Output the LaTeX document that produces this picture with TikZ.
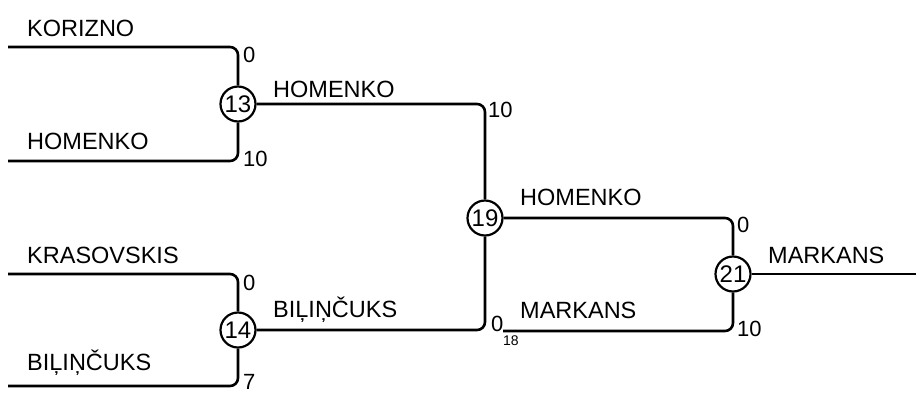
\documentclass[tikz,border=0pt]{standalone}
\usepackage{fontspec}
\setmainfont{Liberation Sans}
\begin{document}
\begin{tikzpicture}[x=1pt,y=-1pt,
  wire/.style={line width=2.6pt,rounded corners=8pt},
  matchnode/.style={circle,draw,line width=2.2pt,minimum size=35pt,inner sep=0pt,fill=white,font=\fontsize{24}{26}\selectfont},
  playername/.style={anchor=base west,inner sep=0pt,font=\fontsize{23.5}{26}\selectfont},
  scorelabel/.style={anchor=base west,inner sep=0pt,font=\fontsize{22}{24}\selectfont},
  smalllabel/.style={anchor=base west,inner sep=0pt,font=\fontsize{14}{16}\selectfont}]
\useasboundingbox (0,0) rectangle (916,392);
% matches
\node[matchnode] (m13) at (238,104) {13};
\node[matchnode] (m14) at (238,330) {14};
\node[matchnode] (m19) at (485,218) {19};
\node[matchnode] (m21) at (733,274) {21};
% free ends
\coordinate (a1) at (8,47);
\coordinate (a2) at (8,161);
\coordinate (a3) at (8,274);
\coordinate (a4) at (8,386);
\coordinate (b1) at (503,331);
\coordinate (c1) at (916,274);
% wires
\draw[wire] (a1) -| (m13);
\draw[wire] (a2) -| (m13);
\draw[wire] (a3) -| (m14);
\draw[wire] (a4) -| (m14);
\draw[wire] (m13) -| (m19);
\draw[wire] (m14) -| (m19);
\draw[wire] (m19) -| (m21);
\draw[wire] (b1) -| (m21);
\draw[wire] (m21) -- (c1);
% names
\node[playername] (n1) at (27,36) {KORIZNO};
\node[playername] (n2) at (27,149) {HOMENKO};
\node[playername] (n3) at (27,263) {KRASOVSKIS};
\node[playername] (n4) at (27,370) {BIĻIŅČUKS};
\node[playername] (n5) at (273,97) {HOMENKO};
\node[playername] (n6) at (273,317) {BIĻIŅČUKS};
\node[playername] (n7) at (520,205) {HOMENKO};
\node[playername] (n8) at (520,318) {MARKANS};
\node[playername] (n9) at (768,263) {MARKANS};
% scores
\node[scorelabel] (s1) at (243,62) {0};
\node[scorelabel] (s2) at (243,166) {10};
\node[scorelabel] (s3) at (243,290) {0};
\node[scorelabel] (s4) at (243,389) {7};
\node[scorelabel] (s5) at (488,117) {10};
\node[scorelabel] (s6) at (737,232) {0};
\node[scorelabel] (s7) at (737,336) {10};
\node[scorelabel] (s8) at (491,331) {0};
\node[smalllabel] (s9) at (503,345) {18};
\end{tikzpicture}
\end{document}
